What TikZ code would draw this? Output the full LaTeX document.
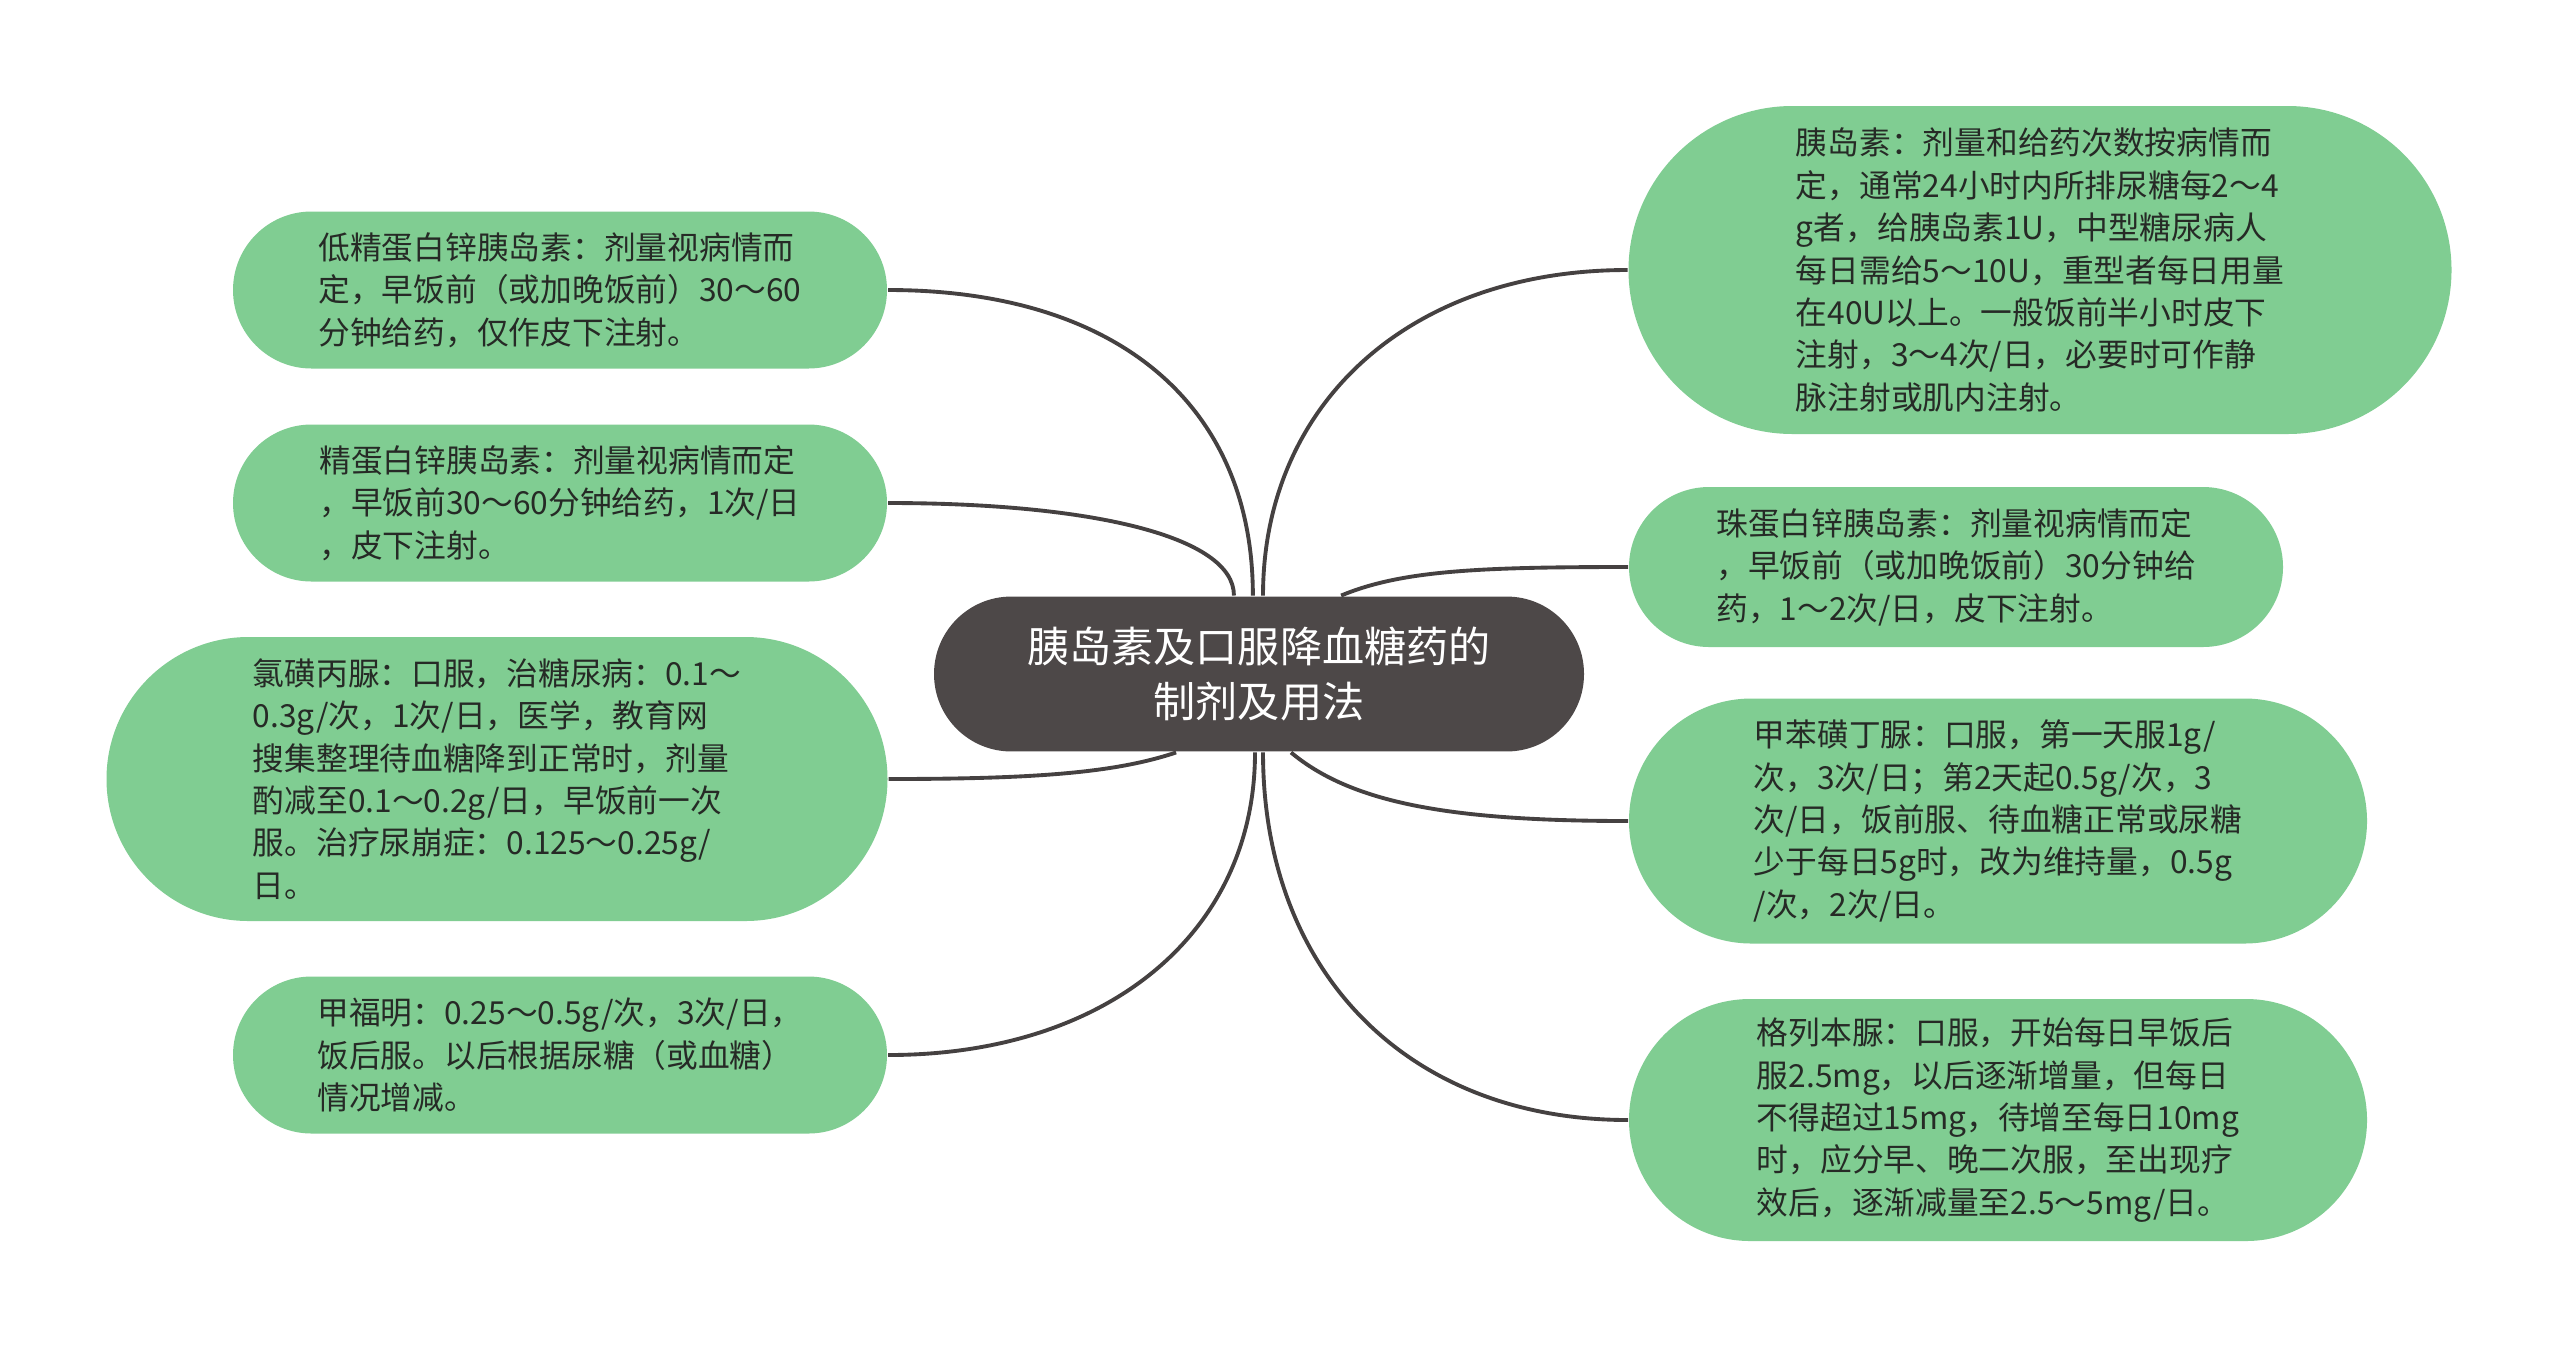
\documentclass[tikz,border=0pt]{standalone}
\usepackage{fontspec}
\setmainfont{Noto Sans CJK SC}

\definecolor{leafgreen}{RGB}{128,205,146}
\definecolor{hubgray}{RGB}{77,72,72}
\definecolor{leaftext}{RGB}{38,42,38}

\tikzset{every picture/.style={line width=0.75pt}}
\tikzset{
  leaf/.style 2 args={fill=leafgreen, text=leaftext, align=left, inner sep=0pt,
    minimum width=#1*0.375pt, minimum height=#2*0.375pt, rounded corners=#2*0.1875pt,
    font=\fontsize{11.9}{15.9}\selectfont},
  hub/.style={fill=hubgray, text=white, align=center, inner sep=0pt,
    minimum width=243.75pt, minimum height=58.1pt, rounded corners=29pt,
    font=\fontsize{15.8}{20.3}\selectfont},
  link/.style={draw=hubgray!90!black, line width=1.45pt}
}

\begin{document}
\begin{tikzpicture}[x=0.375pt,y=0.375pt,yscale=-1,xscale=1]
%set diagram size to the reference, 2560 x 1347
\useasboundingbox (0,0) rectangle (2560,1347);
\fill[white] (0,0) rectangle (2560,1347);

%Shape: Rounded Rect, centre topic
\node (hub) at (1259,674) [hub] {胰岛素及口服降血糖药的\\制剂及用法};

%Shape: Rounded Rect, left side
\node (lowzinc) at (560,290) [leaf={654}{157}] {低精蛋白锌胰岛素：剂量视病情而\\定，早饭前（或加晚饭前）30～60\\分钟给药，仅作皮下注射。};
\node (zinc) at (560,503) [leaf={654}{157}] {精蛋白锌胰岛素：剂量视病情而定\\，早饭前30～60分钟给药，1次/日\\，皮下注射。};
\node (chlor) at (497,779) [leaf={781}{284}] {氯磺丙脲：口服，治糖尿病：0.1～\\0.3g/次，1次/日，医学，教育网\\搜集整理待血糖降到正常时，剂量\\酌减至0.1～0.2g/日，早饭前一次\\服。治疗尿崩症：0.125～0.25g/\\日。};
\node (metf) at (560,1055) [leaf={654}{157}] {甲福明：0.25～0.5g/次，3次/日，\\饭后服。以后根据尿糖（或血糖）\\情况增减。};

%Shape: Rounded Rect, right side
\node (insulin) at (2040,270) [leaf={823}{328}] {胰岛素：剂量和给药次数按病情而\\定，通常24小时内所排尿糖每2～4\\g者，给胰岛素1U，中型糖尿病人\\每日需给5～10U，重型者每日用量\\在40U以上。一般饭前半小时皮下\\注射，3～4次/日，必要时可作静\\脉注射或肌内注射。};
\node (globin) at (1956,567) [leaf={654}{160}] {珠蛋白锌胰岛素：剂量视病情而定\\，早饭前（或加晚饭前）30分钟给\\药，1～2次/日，皮下注射。};
\node (tolb) at (1998,821) [leaf={738}{245}] {甲苯磺丁脲：口服，第一天服1g/\\次，3次/日；第2天起0.5g/次，3\\次/日，饭前服、待血糖正常或尿糖\\少于每日5g时，改为维持量，0.5g\\/次，2次/日。};
\node (glib) at (1998,1120) [leaf={738}{242}] {格列本脲：口服，开始每日早饭后\\服2.5mg，以后逐渐增量，但每日\\不得超过15mg，待增至每日10mg\\时，应分早、晚二次服，至出现疗\\效后，逐渐减量至2.5～5mg/日。};

%Curves, from the top of the centre topic
\draw [link] ([xshift=-2.3pt]hub.north) .. controls +(0,-190) and +(230,0) .. (lowzinc.east);
\draw [link] ([xshift=-9.4pt]hub.north) .. controls +(0,-60) and +(200,0) .. (zinc.east);
\draw [link] ([xshift=1.5pt]hub.north) .. controls +(0,-190) and +(-220,0) .. (insulin.west);
\draw [link] ([xshift=30.8pt]hub.north) .. controls +(60,-25) and +(-150,0) .. (globin.west);
%Curves, from the bottom of the centre topic
\draw [link] ([xshift=-31.1pt]hub.south) .. controls +(-60,20) and +(150,0) .. (chlor.east);
\draw [link] ([xshift=-1.5pt]hub.south) .. controls +(0,180) and +(220,0) .. (metf.east);
\draw [link] ([xshift=12pt]hub.south) .. controls +(60,50) and +(-180,0) .. (tolb.west);
\draw [link] ([xshift=1.5pt]hub.south) .. controls +(0,220) and +(-220,0) .. (glib.west);

\end{tikzpicture}
\end{document}
